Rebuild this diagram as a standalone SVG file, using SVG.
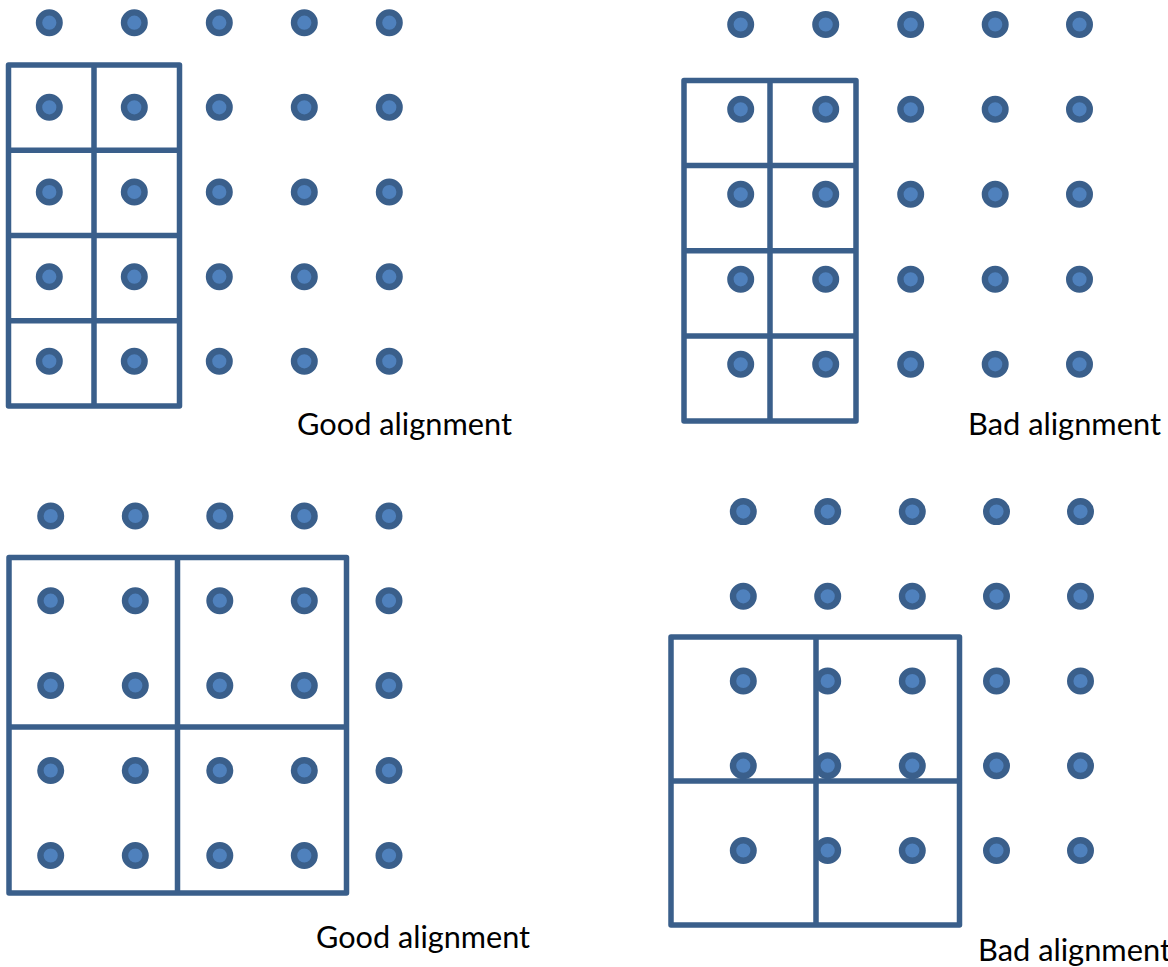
<svg xmlns="http://www.w3.org/2000/svg" xmlns:xlink="http://www.w3.org/1999/xlink" width="1168" height="967" viewBox="0 0 1168 967">
<style>
.grid{fill:none;stroke:#3A5F8B;stroke-width:5.5;stroke-linejoin:round;stroke-linecap:round}
.lbl{font-family:Lato,"Open Sans","Liberation Sans",sans-serif;font-size:30.5px;fill:#000}
</style>
<defs>
<circle id="d" r="10.3" fill="#4F81BD" stroke="#3A5F8B" stroke-width="6.4"/>
</defs>
<rect width="1168" height="967" fill="#fff"/>
<g id="panel-tl">
<g id="dots-tl">
<use xlink:href="#d" x="49.3" y="22.7"/><use xlink:href="#d" x="134.3" y="22.7"/><use xlink:href="#d" x="219.3" y="22.7"/><use xlink:href="#d" x="304.3" y="22.7"/><use xlink:href="#d" x="389.3" y="22.7"/>
<use xlink:href="#d" x="49.3" y="107.3"/><use xlink:href="#d" x="134.3" y="107.3"/><use xlink:href="#d" x="219.3" y="107.3"/><use xlink:href="#d" x="304.3" y="107.3"/><use xlink:href="#d" x="389.3" y="107.3"/>
<use xlink:href="#d" x="49.3" y="192"/><use xlink:href="#d" x="134.3" y="192"/><use xlink:href="#d" x="219.3" y="192"/><use xlink:href="#d" x="304.3" y="192"/><use xlink:href="#d" x="389.3" y="192"/>
<use xlink:href="#d" x="49.3" y="276.7"/><use xlink:href="#d" x="134.3" y="276.7"/><use xlink:href="#d" x="219.3" y="276.7"/><use xlink:href="#d" x="304.3" y="276.7"/><use xlink:href="#d" x="389.3" y="276.7"/>
<use xlink:href="#d" x="49.3" y="361.3"/><use xlink:href="#d" x="134.3" y="361.3"/><use xlink:href="#d" x="219.3" y="361.3"/><use xlink:href="#d" x="304.3" y="361.3"/><use xlink:href="#d" x="389.3" y="361.3"/>
</g>
<path class="grid" d="M8.5 65H179.5V406H8.5Z M94 65V406 M8.5 150.25H179.5 M8.5 235.5H179.5 M8.5 320.75H179.5"/>
<text class="lbl" x="297" y="435" textLength="215" lengthAdjust="spacingAndGlyphs">Good alignment</text>
</g>
<g id="panel-tr">
<g id="dots-tr">
<use xlink:href="#d" x="740.7" y="24.5"/><use xlink:href="#d" x="825.7" y="24.5"/><use xlink:href="#d" x="910.7" y="24.5"/><use xlink:href="#d" x="995.2" y="24.5"/><use xlink:href="#d" x="1079.5" y="24.5"/>
<use xlink:href="#d" x="740.7" y="109.3"/><use xlink:href="#d" x="825.7" y="109.3"/><use xlink:href="#d" x="910.7" y="109.3"/><use xlink:href="#d" x="995.2" y="109.3"/><use xlink:href="#d" x="1079.5" y="109.3"/>
<use xlink:href="#d" x="740.7" y="194.3"/><use xlink:href="#d" x="825.7" y="194.3"/><use xlink:href="#d" x="910.7" y="194.3"/><use xlink:href="#d" x="995.2" y="194.3"/><use xlink:href="#d" x="1079.5" y="194.3"/>
<use xlink:href="#d" x="740.7" y="279.3"/><use xlink:href="#d" x="825.7" y="279.3"/><use xlink:href="#d" x="910.7" y="279.3"/><use xlink:href="#d" x="995.2" y="279.3"/><use xlink:href="#d" x="1079.5" y="279.3"/>
<use xlink:href="#d" x="740.7" y="364.3"/><use xlink:href="#d" x="825.7" y="364.3"/><use xlink:href="#d" x="910.7" y="364.3"/><use xlink:href="#d" x="995.2" y="364.3"/><use xlink:href="#d" x="1079.5" y="364.3"/>
</g>
<path class="grid" d="M684 80.5H856V421H684Z M770 80.5V421 M684 165.5H856 M684 250.75H856 M684 336H856"/>
<text class="lbl" x="968" y="435" textLength="193" lengthAdjust="spacingAndGlyphs">Bad alignment</text>
</g>
<g id="panel-bl">
<g id="dots-bl">
<use xlink:href="#d" x="50.7" y="516"/><use xlink:href="#d" x="135.3" y="516"/><use xlink:href="#d" x="219.8" y="516"/><use xlink:href="#d" x="304.3" y="516"/><use xlink:href="#d" x="389" y="516"/>
<use xlink:href="#d" x="50.7" y="600.7"/><use xlink:href="#d" x="135.3" y="600.7"/><use xlink:href="#d" x="219.8" y="600.7"/><use xlink:href="#d" x="304.3" y="600.7"/><use xlink:href="#d" x="389" y="600.7"/>
<use xlink:href="#d" x="50.7" y="685.5"/><use xlink:href="#d" x="135.3" y="685.5"/><use xlink:href="#d" x="219.8" y="685.5"/><use xlink:href="#d" x="304.3" y="685.5"/><use xlink:href="#d" x="389" y="685.5"/>
<use xlink:href="#d" x="50.7" y="770.5"/><use xlink:href="#d" x="135.3" y="770.5"/><use xlink:href="#d" x="219.8" y="770.5"/><use xlink:href="#d" x="304.3" y="770.5"/><use xlink:href="#d" x="389" y="770.5"/>
<use xlink:href="#d" x="50.7" y="855.5"/><use xlink:href="#d" x="135.3" y="855.5"/><use xlink:href="#d" x="219.8" y="855.5"/><use xlink:href="#d" x="304.3" y="855.5"/><use xlink:href="#d" x="389" y="855.5"/>
</g>
<path class="grid" d="M9 557.5H346.5V893H9Z M177.5 557.5V893 M9 727H346.5"/>
<text class="lbl" x="316" y="948" textLength="214" lengthAdjust="spacingAndGlyphs">Good alignment</text>
</g>
<g id="panel-br">
<g id="dots-br">
<use xlink:href="#d" x="743.3" y="511.6"/><use xlink:href="#d" x="827.7" y="511.6"/><use xlink:href="#d" x="912.3" y="511.6"/><use xlink:href="#d" x="996.5" y="511.6"/><use xlink:href="#d" x="1080.5" y="511.6"/>
<use xlink:href="#d" x="743.3" y="596.3"/><use xlink:href="#d" x="827.7" y="596.3"/><use xlink:href="#d" x="912.3" y="596.3"/><use xlink:href="#d" x="996.5" y="596.3"/><use xlink:href="#d" x="1080.5" y="596.3"/>
</g>
<path class="grid" d="M671 637H959.5V925H671Z M816 637V925 M671 781H959.5"/>
<g id="dots-br2">
<use xlink:href="#d" x="743.3" y="681"/><use xlink:href="#d" x="827.7" y="681"/><use xlink:href="#d" x="912.3" y="681"/><use xlink:href="#d" x="996.5" y="681"/><use xlink:href="#d" x="1080.5" y="681"/>
<use xlink:href="#d" x="743.3" y="765.7"/><use xlink:href="#d" x="827.7" y="765.7"/><use xlink:href="#d" x="912.3" y="765.7"/><use xlink:href="#d" x="996.5" y="765.7"/><use xlink:href="#d" x="1080.5" y="765.7"/>
<use xlink:href="#d" x="743.3" y="850.5"/><use xlink:href="#d" x="827.7" y="850.5"/><use xlink:href="#d" x="912.3" y="850.5"/><use xlink:href="#d" x="996.5" y="850.5"/><use xlink:href="#d" x="1080.5" y="850.5"/>
</g>
<text class="lbl" x="978" y="961" textLength="193" lengthAdjust="spacingAndGlyphs">Bad alignment</text>
</g>
</svg>
